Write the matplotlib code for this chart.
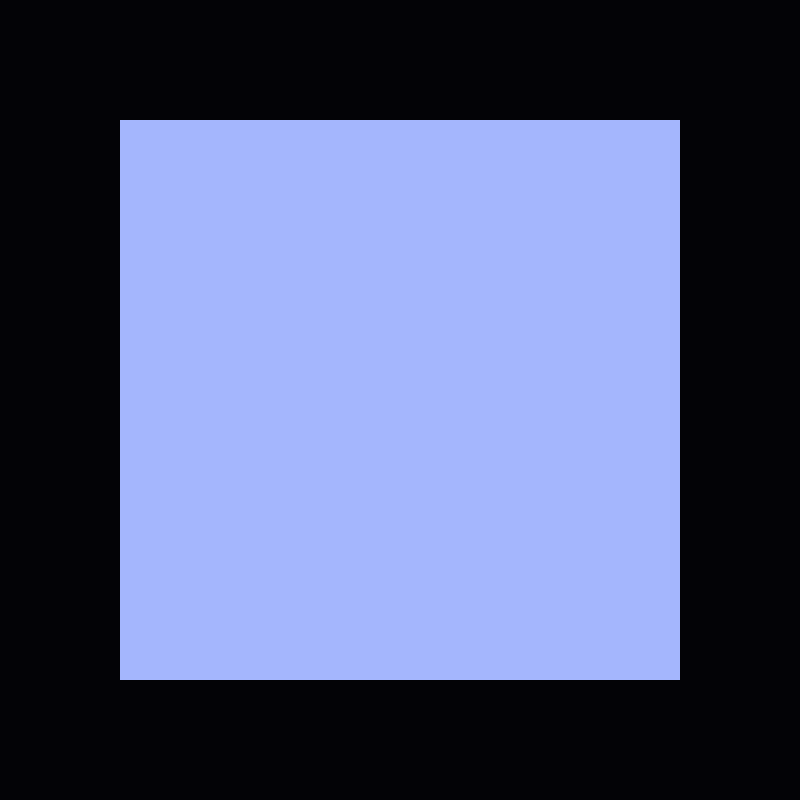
import numpy as np
import matplotlib
matplotlib.use('Agg')
import matplotlib.pyplot as plt
from matplotlib.colors import ListedColormap

# single cell heatmap
rows = ['a']
cols = ['a']
values = [[1.0]]

fig = plt.figure(figsize=(8, 8), dpi=100, facecolor='#030306')
ax = fig.add_axes([0.15, 0.15, 0.70, 0.70])
ax.pcolormesh(np.array(values), cmap=ListedColormap(['#a4b6fd']))
ax.set_xlim(0, len(cols))
ax.set_ylim(0, len(rows))
ax.axis('off')

fig.savefig('out.png', facecolor=fig.get_facecolor())
